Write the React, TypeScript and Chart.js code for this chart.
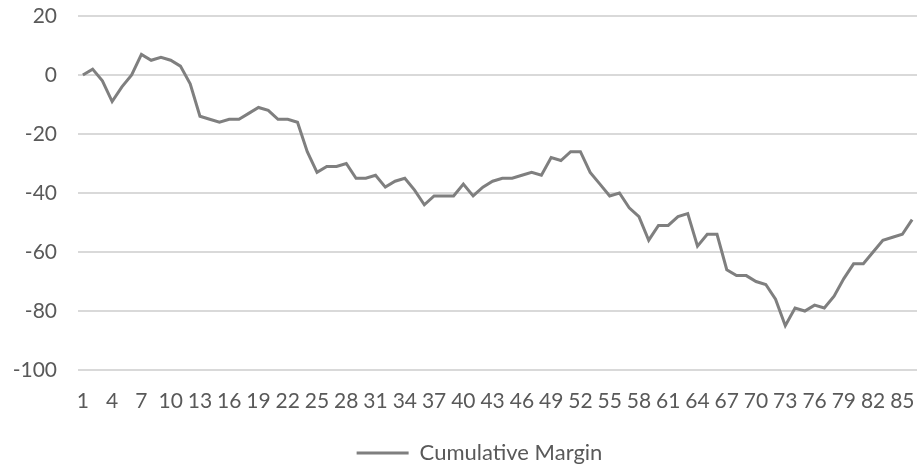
import React, { useEffect, useRef } from "react";
import { Chart, registerables } from "chart.js";

Chart.register(...registerables);

const categories: string[] = Array.from({ length: 86 }, (_, i) => String(i + 1));

const cumulativeMargin: number[] = [
  0, 2, -2, -9, -4, 0, 7, 5, 6, 5,
  3, -3, -14, -15, -16, -15, -15, -13, -11, -12,
  -15, -15, -16, -26, -33, -31, -31, -30, -35, -35,
  -34, -38, -36, -35, -39, -44, -41, -41, -41, -37,
  -41, -38, -36, -35, -35, -34, -33, -34, -28, -29,
  -26, -26, -33, -37, -41, -40, -45, -48, -56, -51,
  -51, -48, -47, -58, -54, -54, -66, -68, -68, -70,
  -71, -76, -85, -79, -80, -78, -79, -75, -69, -64,
  -64, -60, -56, -55, -54, -49,
];

const seriesName = "Cumulative Margin";
const yMin = -100;
const yMax = 20;
const yStep = 20;
const labelEvery = 3;

const FONT = "Lato, 'Open Sans', sans-serif";
const LINE_COLOR = "#7f7f7f";
const TEXT_COLOR = "#595959";
const GRID_COLOR = "#d9d9d9";

const shiftLegend = {
  id: "shiftLegend",
  afterLayout(chart: any) {
    if (chart.legend) {
      chart.legend.left += 21;
      chart.legend.right += 21;
    }
  },
};

export default function App() {
  const canvasRef = useRef<HTMLCanvasElement | null>(null);

  useEffect(() => {
    const canvas = canvasRef.current;
    if (!canvas) return;
    const chart = new Chart(canvas, {
      type: "line",
      data: {
        labels: categories,
        datasets: [
          {
            label: seriesName,
            data: cumulativeMargin,
            borderColor: LINE_COLOR,
            backgroundColor: LINE_COLOR,
            borderWidth: 3,
            pointRadius: 0,
            tension: 0,
            fill: false,
          },
        ],
      },
      plugins: [shiftLegend],
      options: {
        responsive: false,
        animation: false,
        devicePixelRatio: 1,
        layout: { padding: { left: 0, right: 3, top: 16, bottom: -9 } },
        plugins: {
          tooltip: { enabled: false },
          legend: {
            display: true,
            position: "bottom",
            labels: {
              color: TEXT_COLOR,
              font: { family: FONT, size: 22 },
              boxWidth: 52,
              boxHeight: 3,
              padding: 10,
              generateLabels: (c: any) =>
                c.data.datasets.map((ds: any, i: number) => ({
                  text: ds.label,
                  fillStyle: LINE_COLOR,
                  strokeStyle: LINE_COLOR,
                  lineWidth: 0,
                  fontColor: TEXT_COLOR,
                  hidden: false,
                  datasetIndex: i,
                })),
            },
          },
        },
        scales: {
          x: {
            type: "category",
            offset: true,
            grid: { display: false, drawTicks: false },
            border: { display: false },
            afterFit: (s: any) => {
              s.paddingLeft = 0;
              s.paddingRight = 0;
              s.height = 62;
            },
            ticks: {
              autoSkip: false,
              maxRotation: 0,
              minRotation: 0,
              padding: 19,
              color: TEXT_COLOR,
              font: { family: FONT, size: 21 },
              callback: (_v: any, i: number) => (i % labelEvery === 0 ? categories[i] : ""),
            },
          },
          y: {
            min: yMin,
            max: yMax,
            grid: { color: GRID_COLOR, lineWidth: 2, drawTicks: false },
            border: { display: false },
            afterFit: (s: any) => {
              s.paddingTop = 0;
              s.paddingBottom = 0;
              s.width = 78;
            },
            ticks: {
              stepSize: yStep,
              padding: 21,
              color: TEXT_COLOR,
              font: { family: FONT, size: 21 },
            },
          },
        },
      },
    });
    return () => chart.destroy();
  }, []);

  return (
    <div style={{ position: "fixed", left: 0, top: 0, width: 920, height: 465, background: "#fff" }}>
      <canvas ref={canvasRef} width={920} height={465} />
    </div>
  );
}
